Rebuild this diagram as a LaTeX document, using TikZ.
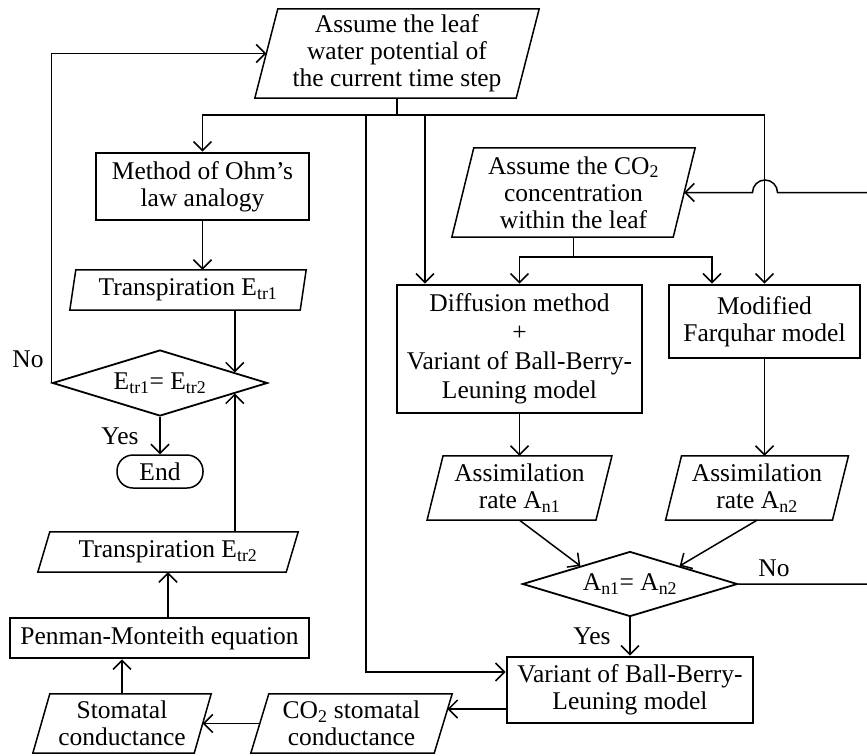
\documentclass[tikz,border=0pt]{standalone}
\usepackage{fontspec}
\setmainfont{Liberation Serif}
\usetikzlibrary{shapes.geometric,arrows.meta,calc}
\newcommand{\myfs}{\fontsize{25.5}{27}\selectfont}
\newcommand{\paradraw}[2]{\draw[thinline] ($(#1.north west)+(#2pt,0pt)$) -- ($(#1.north east)+(#2pt,0pt)$) -- ($(#1.south east)-(#2pt,0pt)$) -- ($(#1.south west)-(#2pt,0pt)$) -- cycle;}
\tikzset{
  thinline/.style={line width=1.5pt},
  arr/.style={thinline,-{Straight Barb[length=9pt,width=18pt]}},
  box/.style={draw, line width=2.8pt, inner sep=0pt, align=center, font=\myfs},
  para/.style={inner sep=0pt, align=center, font=\myfs},
  dia/.style={diamond, draw, line width=1.8pt, inner sep=0pt, font=\myfs},
  lbl/.style={inner sep=0pt, font=\myfs},
}
\begin{document}
\begin{tikzpicture}[x=1pt,y=-1pt]
\useasboundingbox (0,0) rectangle (867,755);

% nodes
\node[para, minimum width=261pt, minimum height=89pt] (p0) at (397,53.5) {Assume the leaf\\water potential of\\the current time step};
\paradraw{p0}{11.5}
\node[box, minimum width=213pt, minimum height=67pt] (ohm) at (202.5,186.5) {Method of Ohm’s\\law analogy};
\node[para, minimum width=230pt, minimum height=40pt] (etr1) at (188,290) {Transpiration E\textsubscript{tr1}};
\paradraw{etr1}{3}
\node[dia, minimum width=215pt, minimum height=66pt] (dE) at (160,383) {\makebox[0pt]{\raisebox{-3pt}{E\textsubscript{tr1}= E\textsubscript{tr2}}}};
\node[draw, thinline, rounded corners=16pt, minimum width=86pt, minimum height=33pt, inner sep=0pt, font=\myfs] (end) at (160,471.5) {End};
\node[para, minimum width=248pt, minimum height=40pt] (etr2) at (168,552) {Transpiration E\textsubscript{tr2}};
\paradraw{etr2}{6}
\node[box, minimum width=299pt, minimum height=40pt] (pm) at (159.5,638) {Penman-Monteith equation};
\node[para, minimum width=161pt, minimum height=59pt] (stom) at (122,723.5) {Stomatal\\conductance};
\paradraw{stom}{8.5}
\node[para, minimum width=183pt, minimum height=59pt] (co2s) at (351.5,723.5) {CO\textsubscript{2} stomatal\\conductance};
\paradraw{co2s}{9}
\node[box, minimum width=246pt, minimum height=66pt] (var) at (630,690) {Variant of Ball-Berry-\\Leuning model};
\node[dia, minimum width=215pt, minimum height=65pt] (dA) at (630,584) {\makebox[0pt]{\raisebox{-3pt}{A\textsubscript{n1}= A\textsubscript{n2}}}};
\node[para, minimum width=168.5pt, minimum height=64pt] (an1) at (519.5,488) {Assimilation\\rate A\textsubscript{n1}};
\paradraw{an1}{8}
\node[para, minimum width=166.5pt, minimum height=64pt] (an2) at (757,488) {Assimilation\\rate A\textsubscript{n2}};
\paradraw{an2}{8}
\node[box, minimum width=245pt, minimum height=128pt] (dif) at (519.5,349) {Diffusion method\\[2pt]+\\[2pt]Variant of Ball-Berry-\\[2pt]Leuning model};
\node[box, minimum width=191pt, minimum height=73pt] (mod) at (764.5,321.5) {Modified\\Farquhar model};
\node[para, minimum width=221pt, minimum height=89pt] (co2a) at (573.5,192.5) {Assume the CO\textsubscript{2}\\concentration\\within the leaf};
\paradraw{co2a}{11}

% labels
\node[lbl] (no1) at (28,359) {No};
\node[lbl] (yes1) at (120,436) {Yes};
\node[lbl] (yes2) at (592,636) {Yes};
\node[lbl] (no2) at (774,568) {No};

% connectors
\coordinate (j0) at (397,115);
\coordinate (jd) at (425,115);
\coordinate (jv) at (366,115);
\coordinate (vin) at ($(var.west)+(0,-18)$);
\draw[thinline] (p0.south) -- (j0);
\draw[arr] (j0) -| (ohm.north);
\draw[arr] (j0) -| (mod.north);
\draw[arr] (jd) -- (jd |- dif.north);
\draw[arr] (jv) |- (vin);

\draw[arr] (ohm.south) -- (ohm.south |- etr1.north);
\draw[arr] (etr1.south -| dE.8) -- (dE.8);
\draw[arr] (dE.west) -- (dE.west |- p0.west) -- (p0.west);
\draw[arr] (dE.south) -- (end.north);
\draw[arr] (etr2.north -| dE.-8) -- (dE.-8);
\draw[arr] (pm.north -| etr2.south) -- (etr2.south);
\draw[arr] (stom.north) -- (stom.north |- pm.south);
\draw[arr] (co2s.west) -- (stom.east);
\coordinate (c2in) at (447.5,709);
\draw[arr] (c2in -| var.west) -- (c2in);

\coordinate (j1) at (573.5,257);
\coordinate (j2) at (712,257);
\draw[thinline] (co2a.south) -- (j1);
\draw[arr] (j1) -| (dif.north);
\draw[arr] (j1) -- (j2) -- (j2 |- mod.north);
\draw[arr] (dif.south) -- (an1.north);
\draw[arr] (mod.south) -- (mod.south |- an2.north);
\draw[arr] (an1.south) -- (dA.160);
\draw[arr] (an2.south) -- (dA.20);
\draw[arr] (dA.south) -- (var.north);

\coordinate (r1) at (872,584);
\coordinate (r2) at (872,192.5);
\coordinate (h1) at (777.5,192.5);
\draw[arr] (dA.east) -- (r1) -- (r2) -- (h1) arc[start angle=0, end angle=180, radius=12.5pt] -- (co2a.east);
\end{tikzpicture}
\end{document}
